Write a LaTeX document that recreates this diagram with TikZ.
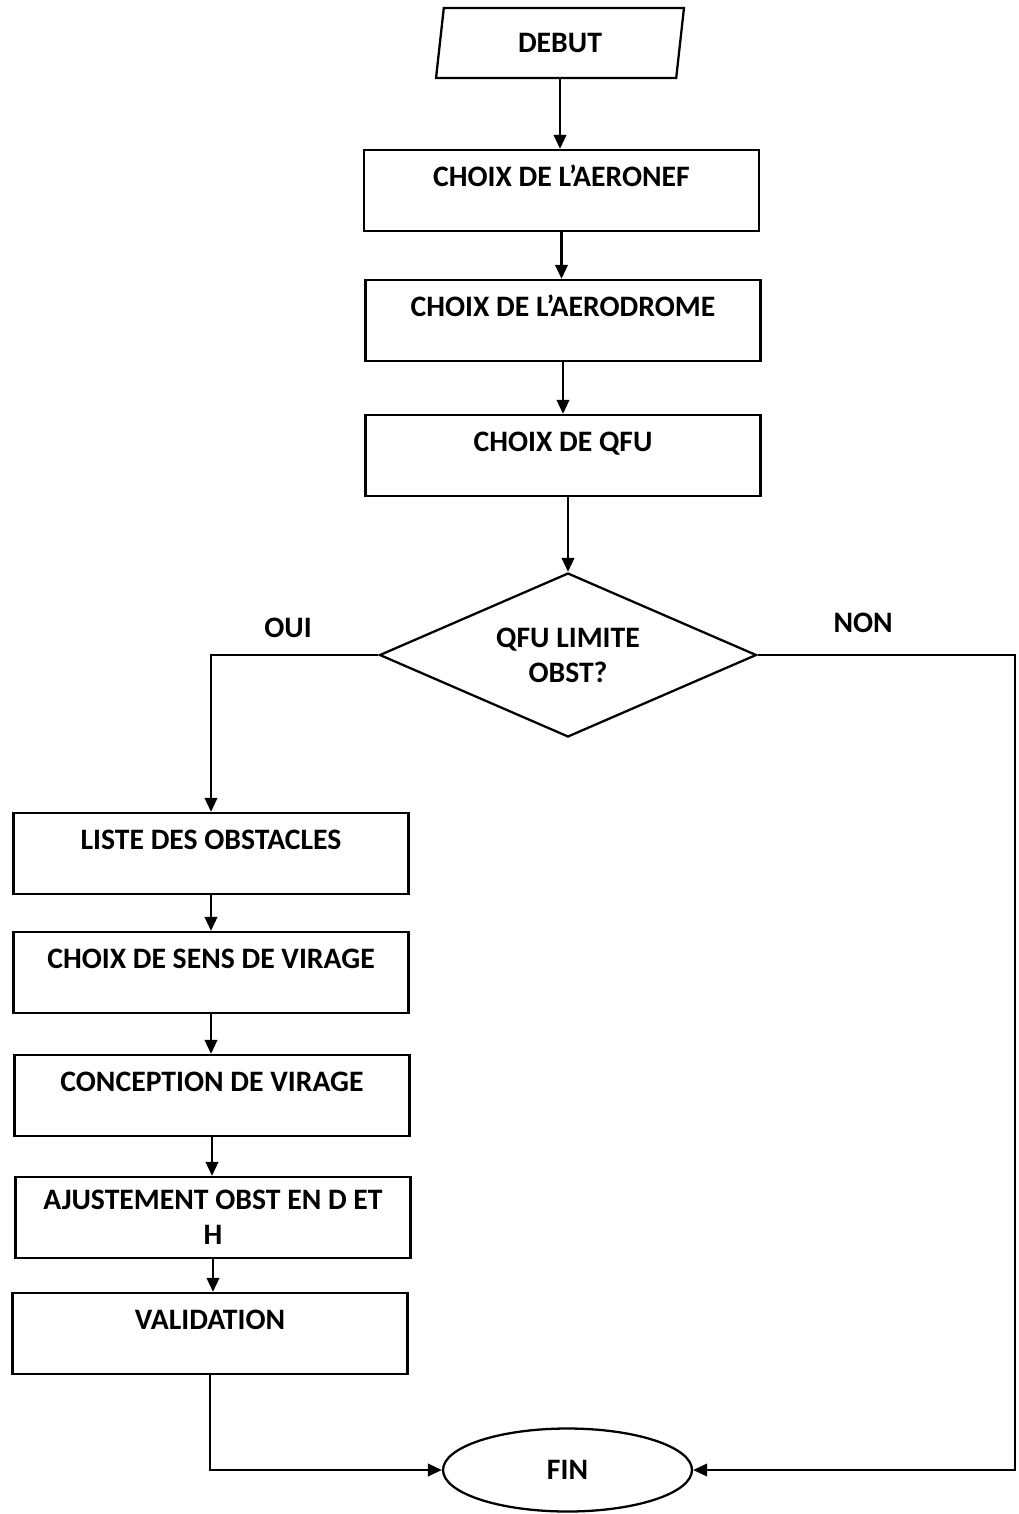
\documentclass[tikz,border=0pt]{standalone}
\usepackage{fontspec}
\setmainfont{Carlito}
\usetikzlibrary{positioning, arrows.meta, shapes.geometric}

\begin{document}
\begin{tikzpicture}[x=0.02cm, y=-0.02cm,
    labelfont/.style={font=\fontsize{16.9}{20}\selectfont\bfseries},
    box/.style={draw, rectangle, line width=1.3pt, labelfont, minimum width=7.9cm,
        inner xsep=2pt, inner ysep=0pt, text height=0.72cm, text depth=0.9cm},
    twobox/.style={draw, rectangle, line width=1.3pt, labelfont, minimum width=7.9cm,
        minimum height=1.62cm, align=center},
    decision/.style={draw, diamond, line width=1.3pt, labelfont, aspect=2.3,
        minimum width=7.54cm, minimum height=3.28cm, inner sep=0pt, align=center},
    start/.style={draw, trapezium, trapezium left angle=76, trapezium right angle=104,
        trapezium stretches body, line width=1.3pt, labelfont,
        minimum width=4.96cm, minimum height=1.4cm},
    final/.style={draw, ellipse, line width=1.3pt, labelfont,
        minimum width=4.98cm, minimum height=1.66cm},
    arr/.style={-{Triangle[length=2.8mm, width=2.5mm]}, line width=1.3pt}]
    \useasboundingbox (0,0) rectangle (1018,1514);

    % Nodes
    \node[start] (Debut) at (560,43) {DEBUT};
    \node[box] (Aeronef) at (561.5,190.5) {CHOIX DE L’AERONEF};
    \node[box] (Aerodrome) at (563,320.5) {CHOIX DE L’AERODROME};
    \node[box] (Qfu) at (563,455.5) {CHOIX DE QFU};
    \node[decision] (Test) at (568,655) {QFU LIMITE\\OBST?};
    \node[box] (Liste) at (211,853.5) {LISTE DES OBSTACLES};
    \node[box] (Sens) at (211,972.5) {CHOIX DE SENS DE VIRAGE};
    \node[box] (Conception) at (212,1095.5) {CONCEPTION DE VIRAGE};
    \node[twobox] (Ajustement) at (213,1217.5) {AJUSTEMENT OBST EN D ET\\H};
    \node[box] (Validation) at (210,1333.5) {VALIDATION};
    \node[final] (Fin) at (567.5,1470) {FIN};
    \coordinate (NonCorner) at (1015,655);

    % Paths
    \draw[arr] (Debut.south) -- (Debut.south |- Aeronef.north);
    \draw[arr] (Aeronef.south) -- (Aeronef.south |- Aerodrome.north);
    \draw[arr] (Aerodrome.south) -- (Aerodrome.south |- Qfu.north);
    \draw[arr] (Qfu.south -| Test.north) -- (Test.north);

    \draw[arr] (Test.west) -| node[labelfont, above=2mm, pos=0.27] {OUI} (Liste.north);
    \draw[arr] (Test.east) -- node[labelfont, above=3mm, pos=0.41] {NON} (NonCorner) |- (Fin.east);

    \draw[arr] (Liste.south) -- (Liste.south |- Sens.north);
    \draw[arr] (Sens.south) -- (Sens.south |- Conception.north);
    \draw[arr] (Conception.south) -- (Conception.south |- Ajustement.north);
    \draw[arr] (Ajustement.south) -- (Ajustement.south |- Validation.north);
    \draw[arr] (Validation.south) |- (Fin.west);
\end{tikzpicture}
\end{document}
